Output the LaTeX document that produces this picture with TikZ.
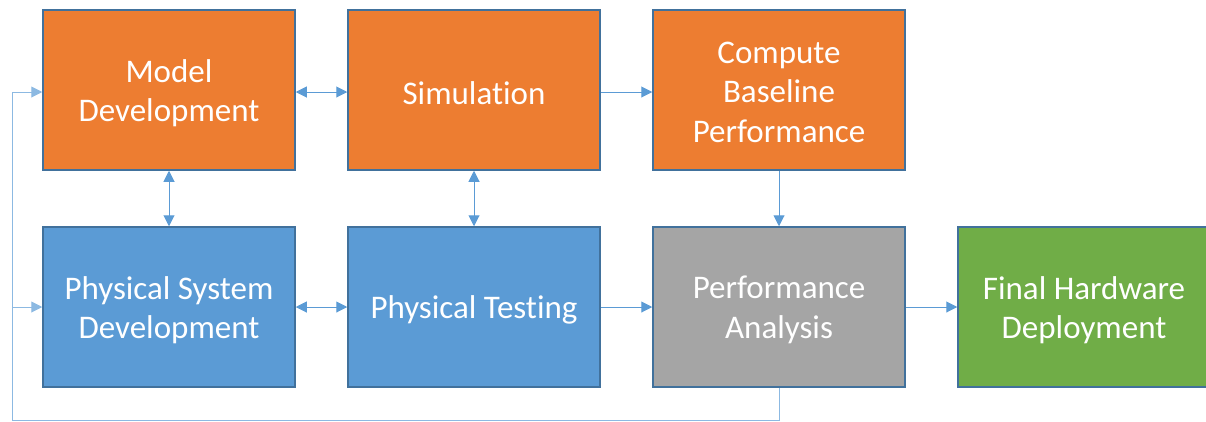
\documentclass[tikz,border=0pt]{standalone}
\usepackage{fontspec}
\setmainfont[Ligatures=NoCommon]{Carlito}
\usetikzlibrary{arrows.meta}
\definecolor{orangebox}{HTML}{ED7D31}
\definecolor{bluebox}{HTML}{5B9BD5}
\definecolor{greybox}{HTML}{A5A5A5}
\definecolor{greenbox}{HTML}{70AD47}
\definecolor{edgeblue}{HTML}{41719C}
\definecolor{linkblue}{HTML}{5B9BD5}
\tikzset{
  x=1pt, y=-1pt,
  box/.style={draw=edgeblue, line width=1.5pt, minimum width=252pt, minimum height=160pt, inner sep=0pt},
  lbl/.style={text=white, align=center, inner sep=0pt, font=\fontsize{33}{39.5}\selectfont},
  link/.style={draw=linkblue, line width=1pt, -{Triangle[length=11pt,width=11pt]}},
  dlink/.style={draw=linkblue, line width=1pt, {Triangle[length=11pt,width=11pt]}-{Triangle[length=11pt,width=11pt]}},
  fb/.style={draw=linkblue!70, line width=1pt}
}
\begin{document}
\begin{tikzpicture}
\useasboundingbox (0,0) rectangle (1206,421);
\node[box, fill=orangebox] (md) at (169,90) {};
\node[box, fill=orangebox] (sim) at (474,90) {};
\node[box, fill=orangebox] (cbp) at (779,90) {};
\node[box, fill=bluebox] (psd) at (169,307) {};
\node[box, fill=bluebox] (pt) at (474,307) {};
\node[box, fill=greybox] (pa) at (779,307) {};
\node[box, fill=greenbox] (fhd) at (1084,307) {};

\node[lbl] (mdt) at ([yshift=-3pt]md.center) {Model\\Development};
\node[lbl] (simt) at ([yshift=-3pt]sim.center) {Simulation};
\node[lbl] (cbpt) at ([yshift=-2pt]cbp.center) {Compute\\Baseline\\Performance};
\node[lbl] (psdt) at ([yshift=-3pt]psd.center) {Physical System\\Development};
\node[lbl] (ptt) at ([yshift=-3pt]pt.center) {Physical Testing};
\node[lbl] (pat) at ([yshift=-3pt]pa.center) {Performance\\Analysis};
\node[lbl] (fhdt) at ([yshift=-3pt]fhd.center) {Final Hardware\\Deployment};

\draw[dlink] (md.east |- 0,92) -- (sim.west |- 0,92);
\draw[link] (sim.east |- 0,92) -- (cbp.west |- 0,92);
\draw[dlink] (md.south) -- (psd.north);
\draw[dlink] (sim.south) -- (pt.north);
\draw[link] (cbp.south) -- (pa.north);
\draw[dlink] (psd.east) -- (pt.west);
\draw[link] (pt.east) -- (pa.west);
\draw[link] (pa.east) -- (fhd.west);

\coordinate (c1) at (779,420);
\coordinate (c2) at (12,420);
\draw[fb] (pa.south) -- (c1) -- (c2);
\draw[link, draw=linkblue!70] (c2) -- (12,92) -- (md.west |- 0,92);
\draw[link, draw=linkblue!70] (c2) -- (12,307) -- (psd.west);
\end{tikzpicture}
\end{document}
